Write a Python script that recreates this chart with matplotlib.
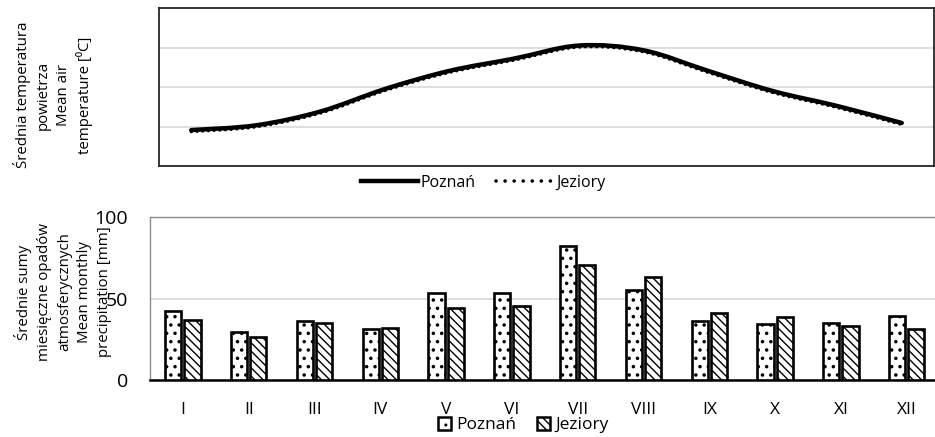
import numpy as np
import matplotlib.pyplot as plt
from matplotlib.path import Path
from matplotlib.patches import PathPatch, Patch
from matplotlib.lines import Line2D

plt.rcParams['font.family'] = ['Open Sans', 'DejaVu Sans']

# data
months = ['I', 'II', 'III', 'IV', 'V', 'VI', 'VII', 'VIII', 'IX', 'X', 'XI', 'XII']
temp_poznan = [-0.9, 0.3, 3.8, 9.5, 14.1, 17.2, 20.5, 19.3, 14.1, 9.0, 5.2, 0.9]
temp_jeziory = [-1.3, -0.1, 3.4, 9.1, 13.7, 16.8, 20.1, 18.9, 13.7, 8.6, 4.8, 0.5]
prec_poznan = [42.3, 29.4, 36.2, 31.1, 53.6, 53.6, 82.2, 55.2, 36.2, 34.4, 35.2, 39.5]
prec_jeziory = [36.8, 26.4, 34.8, 32.3, 44.6, 45.4, 70.7, 63.2, 41.3, 38.7, 33.5, 31.1]

x = np.arange(len(months))


def smooth_path(xs, ys):
    # bezier through the points, like a spreadsheet "smoothed line"
    pts = np.column_stack([xs, ys]).astype(float)
    n = len(pts)
    verts = [pts[0]]
    codes = [Path.MOVETO]
    for i in range(n - 1):
        p0 = pts[i - 1] if i > 0 else pts[i]
        p1 = pts[i]
        p2 = pts[i + 1]
        p3 = pts[i + 2] if i + 2 < n else pts[i + 1]
        verts += [p1 + (p2 - p0) / 6, p2 - (p3 - p1) / 6, p2]
        codes += [Path.CURVE4] * 3
    return Path(verts, codes)


fig = plt.figure(figsize=(9.35, 4.37), dpi=100)

# ---- temperature
ax1 = fig.add_axes([159/935, 1-166/437, 775/935, 158/437])
ax1.set_xlim(-0.5, 11.5)
ax1.set_ylim(-10, 30)
ax1.set_yticks([0, 10, 20])
ax1.set_xticks([])
ax1.tick_params(left=False, labelleft=False)
ax1.grid(axis='y', color='#d9d9d9', lw=1.2)
ax1.set_axisbelow(True)
for s in ax1.spines.values():
    s.set_color('#262626')
    s.set_linewidth(1.3)

ax1.add_patch(PathPatch(smooth_path(x, temp_jeziory), fill=False, ec='black',
                        lw=2.4, ls=(0, (0.01, 1.7)), capstyle='round'))
ax1.add_patch(PathPatch(smooth_path(x, temp_poznan), fill=False, ec='black',
                        lw=3.2, capstyle='round'))

h1 = [Line2D([], [], color='black', lw=3.2),
      Line2D([], [], color='black', lw=2.6, ls=(0, (0.01, 2.5)),
             dash_capstyle='round')]
fig.legend(h1, ['Poznań', 'Jeziory'], loc='center', ncol=2,
           bbox_to_anchor=(483/935, 1-183/437), frameon=False, fontsize=11.5,
           handlelength=3.6, handletextpad=0.15, columnspacing=1.3,
           borderpad=0)

fig.text(53/935, 1-95/437,
         'Średnia temperatura\npowietrza\nMean air\ntemperature [⁰C]',
         rotation=90, ha='center', va='center', multialignment='center',
         fontsize=10.8, linespacing=1.45)

# ---- precipitation
ax2 = fig.add_axes([150/935, 1-380/437, 789.6/935, 162.5/437])
w = 0.245
with plt.rc_context({'hatch.linewidth': 1.3}):
    ax2.bar(x - 0.145, prec_poznan, w, color='white', edgecolor='black',
            lw=1.9, hatch='..', label='Poznań', zorder=3)
    dot_patch = Patch(facecolor='white', edgecolor='black', hatch='..', lw=1.8)
with plt.rc_context({'hatch.linewidth': 1.0}):
    ax2.bar(x + 0.145, prec_jeziory, w, color='white', edgecolor='black',
            lw=1.9, hatch='\\\\\\\\', label='Jeziory', zorder=3)
    hatch_patch = Patch(facecolor='white', edgecolor='black', hatch='\\\\\\\\', lw=1.8)
ax2.set_xlim(-0.5, 11.5)
ax2.set_ylim(0, 100)
ax2.set_yticks([0, 50, 100])
ax2.set_xticks(x, months)
ax2.tick_params(length=0, labelsize=12.5)
ax2.tick_params(axis='x', pad=16)
ax2.tick_params(axis='y', pad=16, labelsize=14)
ax2.grid(axis='y', color='#d9d9d9', lw=1.2)
ax2.set_axisbelow(True)
for s in ['top', 'left', 'right']:
    ax2.spines[s].set_color('#8c8c8c')
    ax2.spines[s].set_linewidth(1.0)
ax2.spines['bottom'].set_color('black')
ax2.spines['bottom'].set_linewidth(1.8)

fig.legend([dot_patch, hatch_patch], ['Poznań', 'Jeziory'], loc='center', ncol=2,
           bbox_to_anchor=(523/935, 1-425/437), frameon=False, fontsize=12.5,
           handlelength=0.75, handleheight=0.75, handletextpad=0.3,
           columnspacing=1.2, borderpad=0)

fig.text(63/935, 1-292/437,
         'Średnie sumy\nmiesięczne opadów\natmosferycznych\nMean monthly\nprecipitation [mm]',
         rotation=90, ha='center', va='center', multialignment='center',
         fontsize=10.8, linespacing=1.45)

fig.savefig('out.png', dpi=100)
